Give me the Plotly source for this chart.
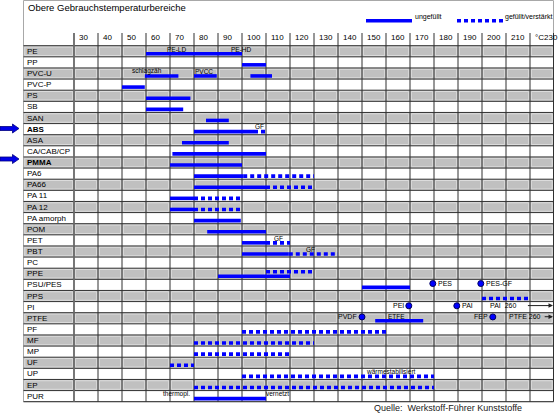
import plotly.graph_objects as go

# ---------------- data ----------------
materials = ["PE", "PP", "PVC-U", "PVC-P", "PS", "SB", "SAN", "ABS", "ASA", "CA/CAB/CP",
             "PMMA", "PA6", "PA66", "PA 11", "PA 12", "PA amorph", "POM", "PET", "PBT", "PC",
             "PPE", "PSU/PES", "PPS", "PI", "PTFE", "PF", "MF", "MP", "UF", "UP", "EP", "PUR"]
highlighted_materials = ["ABS", "PMMA"]

tick_values = [30, 40, 50, 60, 70, 80, 90, 100, 110, 120, 130, 140, 150, 160, 170, 180, 190, 200, 210, 220, 230]
tick_labels = ["30", "40", "50", "60", "70", "80", "90", "100", "110", "120", "130", "140", "150",
               "160", "170", "180", "190", "200", "210", "°C", "230"]

# unfilled (ungefüllt) ranges, °C
unfilled_material = ["PE", "PP", "PVC-U", "PVC-U", "PVC-U", "PVC-P", "PS", "SB", "SAN", "ABS", "ASA",
                     "CA/CAB/CP", "PMMA", "PA6", "PA66", "PA 11", "PA 12", "PA amorph", "POM", "PET",
                     "PBT", "PPE", "PSU/PES", "PTFE", "PUR"]
unfilled_from = [60, 100, 59.5, 80, 103.5, 50, 60, 60, 85, 80, 75,
                 71, 70, 80, 80, 70, 70, 80, 85.5, 100,
                 100, 90, 150, 155.5, 80]
unfilled_to = [100, 110, 73.5, 89.5, 112.5, 59.5, 78.5, 75.5, 94.5, 105, 94.5,
               110, 100, 100.5, 110, 80, 80, 99.5, 110, 110,
               119.5, 120, 170, 175.5, 110]

# filled / reinforced (gefüllt/verstärkt) ranges, °C
filled_material = ["ABS", "PA6", "PA66", "PA 11", "PA 12", "PET", "PBT", "PPE", "PPS",
                   "PF", "MF", "MP", "UF", "UP", "EP"]
filled_from = [105, 100.5, 110, 80, 80, 110, 119.5, 110, 200, 100, 80, 80, 70, 100, 80]
filled_to = [110, 130, 130, 100, 100, 120, 140, 130, 220, 160, 130, 120, 80, 180, 180]
filled_upper = ["PPE"]  # drawn in upper half of its row

# single-value materials (dots)
point_material = ["PSU/PES", "PSU/PES", "PI", "PI", "PTFE", "PTFE"]
point_temp = [179.5, 199.5, 169.5, 189.5, 150, 204.5]
point_label = ["PES", "PES-GF", "PEI", "PAI", "PVDF", "FEP"]
point_label_side = ["right", "right", "left", "right", "left", "left"]

# values beyond the scale
beyond_material = ["PI", "PTFE"]
beyond_label = ["PAI  260", "PTFE 260"]
beyond_label_at = [202.6, 210.5]
beyond_arrow_from = [218.5, 225.5]

# small notes above bars
note_material = ["PE", "PE", "PVC-U", "PVC-U", "ABS", "PET", "PBT", "PTFE", "UP", "PUR", "PUR"]
note_temp = [72.8, 99.6, 60.6, 84.2, 107.4, 115.4, 128.7, 164.2, 162.0, 72.8, 114.8]
note_text = ["PE-LD", "PE-HD", "schlagzäh", "PVCC", "GF", "GF", "GF", "ETFE",
             "wärmestabilisiert", "thermopl.", "vernetzt"]

title_text = "Obere Gebrauchstemperaturbereiche"
source_text = "Quelle:  Werkstoff-Führer Kunststoffe"
legend_unfilled = "ungefüllt"
legend_filled = "gefüllt/verstärkt"

# ---------------- geometry helpers (layout only) ----------------
W, H = 560, 413
X0PX, XSTEP = 74.0, 2.4          # px of 30 °C, px per °C
Y0PX, ROWH = 45.7, 11.125        # px of table top, row height


def tx(px):
    return 30 + (px - X0PX) / XSTEP


def ty(py):
    return (py - Y0PX) / ROWH


X_RANGE = [tx(0), tx(W)]
Y_RANGE = [ty(H), ty(0)]
XL = tx(23.5)
XR = tx(553.5)
NROW = len(materials)
row = {m: i for i, m in enumerate(materials)}

FONT = "Liberation Sans, Arial, Helvetica, sans-serif"
BLUE = "#0000FF"
BAR_W = 3.6
DASH = "4px,3px"
BAR_OFF = 0.72
UPPER_OFF = 0.32

fig = go.Figure()
shapes = []
annotations = []

# gray row backgrounds
for i in range(NROW):
    if i % 2 == 0:
        shapes.append(dict(type="rect", xref="x", yref="y", x0=XL, x1=XR, y0=i, y1=i + 1,
                           fillcolor="#C0C0C0", line=dict(width=0), layer="below"))

# frame (title box + table)
shapes.append(dict(type="rect", xref="x", yref="y", x0=XL, x1=XR, y0=ty(0.5), y1=NROW,
                   fillcolor="rgba(0,0,0,0)", line=dict(color="#A8A8A8", width=1), layer="below"))

# light bevel inside gray cells
col_edges = [XL] + tick_values[:-1] + [XR]
inset_x = 1.3 / XSTEP
inset_y = 1.3 / ROWH
bx, by = [], []
for i in range(0, NROW, 2):
    for a, b in zip(col_edges[:-1], col_edges[1:]):
        x0, x1 = a + inset_x, b - inset_x
        y0, y1 = i + inset_y, i + 1 - inset_y
        bx += [x0, x1, x1, x0, x0, None]
        by += [y1, y1, y0, y0, y1, None]
fig.add_trace(go.Scatter(x=bx, y=by, mode="lines", line=dict(color="#DCDCDC", width=1),
                         hoverinfo="skip", showlegend=False))

# grid lines
gx, gy = [], []
for i in range(NROW + 1):
    gx += [XL, XR, None]
    gy += [i, i, None]
for v in tick_values[:-1]:
    gx += [v, v, None]
    gy += [ty(33), NROW, None]
gx += [XR, XR, None]
gy += [ty(33), NROW, None]
fig.add_trace(go.Scatter(x=gx, y=gy, mode="lines", line=dict(color="#303030", width=1),
                         hoverinfo="skip", showlegend=False))
# vertical line separating label column
fig.add_trace(go.Scatter(x=[30, 30], y=[ty(33), NROW], mode="lines",
                         line=dict(color="#707070", width=1.6), hoverinfo="skip", showlegend=False))

# unfilled bars
ux, uy = [], []
for m, a, b in zip(unfilled_material, unfilled_from, unfilled_to):
    yy = row[m] + BAR_OFF
    ux += [a, b, None]
    uy += [yy, yy, None]
fig.add_trace(go.Scatter(x=ux, y=uy, mode="lines", name=legend_unfilled,
                         line=dict(color=BLUE, width=BAR_W), showlegend=False))

# filled bars
fx, fy = [], []
for m, a, b in zip(filled_material, filled_from, filled_to):
    yy = row[m] + (UPPER_OFF if m in filled_upper else BAR_OFF)
    fx += [a, b, None]
    fy += [yy, yy, None]
fig.add_trace(go.Scatter(x=fx, y=fy, mode="lines", name=legend_filled,
                         line=dict(color=BLUE, width=BAR_W, dash=DASH), showlegend=False))

# dots
fig.add_trace(go.Scatter(x=point_temp, y=[row[m] + 0.38 for m in point_material], mode="markers",
                         marker=dict(color=BLUE, size=6, line=dict(color="#000060", width=1)),
                         showlegend=False))
for m, t, lab, side in zip(point_material, point_temp, point_label, point_label_side):
    off = 3.0 / XSTEP
    annotations.append(dict(x=t + off if side == "right" else t - off, y=row[m] + 0.38,
                            xref="x", yref="y", text=lab, showarrow=False,
                            xanchor="left" if side == "right" else "right", yanchor="middle",
                            font=dict(family=FONT, size=7, color="#000000")))

# values beyond the scale: label + arrow to right edge
for m, lab, at, af in zip(beyond_material, beyond_label, beyond_label_at, beyond_arrow_from):
    yy = row[m] + 0.36
    annotations.append(dict(x=at, y=yy, xref="x", yref="y", text=lab, showarrow=False,
                            xanchor="left", yanchor="middle",
                            font=dict(family=FONT, size=7, color="#000000")))
    annotations.append(dict(x=XR - 0.2, y=yy, ax=af, ay=yy,
                            xref="x", yref="y", axref="x", ayref="y", text="", showarrow=True,
                            arrowhead=2, arrowsize=0.9, arrowwidth=1, arrowcolor="#202020"))

# notes
for m, t, txt in zip(note_material, note_temp, note_text):
    annotations.append(dict(x=t, y=row[m] + 0.3, xref="x", yref="y", text=txt, showarrow=False,
                            xanchor="center", yanchor="middle",
                            font=dict(family=FONT, size=6.5, color="#000000")))

# row labels
for m in materials:
    txt = "<b>%s</b>" % m if m in highlighted_materials else m
    annotations.append(dict(x=tx(25), y=row[m] + 0.5, xref="x", yref="y", text=txt, showarrow=False,
                            xanchor="left", yanchor="middle",
                            font=dict(family=FONT, size=8, color="#000000")))

# tick labels
for v, lab in zip(tick_values, tick_labels):
    if v == tick_values[-1]:
        annotations.append(dict(x=tx(560), y=ty(37), xref="x", yref="y", text=lab, showarrow=False,
                                xanchor="right", yanchor="middle",
                                font=dict(family=FONT, size=8, color="#000000")))
    else:
        annotations.append(dict(x=v + 1.2, y=ty(37), xref="x", yref="y", text=lab, showarrow=False,
                                xanchor="left", yanchor="middle",
                                font=dict(family=FONT, size=8, color="#000000")))

# blue arrows marking highlighted materials
for m, py in zip(highlighted_materials, [128.5, 159.0]):
    yc = ty(py)
    h1, h2 = 2.0 / ROWH, 4.5 / ROWH
    xa, xb, xc = tx(0), tx(12.5), tx(19)
    path = ("M {a},{y1} L {b},{y1} L {b},{y2} L {c},{yc} L {b},{y3} L {b},{y4} L {a},{y4} Z"
            .format(a=xa, b=xb, c=xc, yc=yc, y1=yc - h1, y2=yc - h2, y3=yc + h2, y4=yc + h1))
    shapes.append(dict(type="path", xref="x", yref="y", path=path, fillcolor="#0000E8",
                       line=dict(color="#000080", width=0.8)))

# legend (drawn manually in header)
ly = ty(20.7)
fig.add_trace(go.Scatter(x=[tx(366), tx(412)], y=[ly, ly], mode="lines",
                         line=dict(color=BLUE, width=BAR_W), showlegend=False, hoverinfo="skip"))
fig.add_trace(go.Scatter(x=[tx(457), tx(503)], y=[ly, ly], mode="lines",
                         line=dict(color=BLUE, width=BAR_W, dash=DASH), showlegend=False, hoverinfo="skip"))
annotations.append(dict(x=tx(412.5), y=ty(16.5), xref="x", yref="y", text=legend_unfilled,
                        showarrow=False, xanchor="left", yanchor="middle",
                        font=dict(family=FONT, size=7, color="#000000")))
annotations.append(dict(x=tx(503), y=ty(16.5), xref="x", yref="y", text=legend_filled,
                        showarrow=False, xanchor="left", yanchor="middle",
                        font=dict(family=FONT, size=7, color="#000000")))

# title and source
annotations.append(dict(x=tx(25.5), y=ty(7), xref="x", yref="y", text=title_text, showarrow=False,
                        xanchor="left", yanchor="middle",
                        font=dict(family=FONT, size=9.5, color="#000000")))
annotations.append(dict(x=tx(372), y=ty(407.5), xref="x", yref="y", text=source_text, showarrow=False,
                        xanchor="left", yanchor="middle",
                        font=dict(family=FONT, size=9, color="#202020")))

fig.update_layout(
    width=W, height=H, autosize=False,
    margin=dict(l=0, r=0, t=0, b=0, pad=0),
    paper_bgcolor="#FFFFFF", plot_bgcolor="#FFFFFF",
    xaxis=dict(range=X_RANGE, visible=False, fixedrange=True),
    yaxis=dict(range=Y_RANGE, visible=False, fixedrange=True),
    shapes=shapes, annotations=annotations, showlegend=False,
)

fig.write_html("out.html", config={"displayModeBar": False},
               post_script="document.body.style.margin='0px';document.body.style.overflow='hidden';")
